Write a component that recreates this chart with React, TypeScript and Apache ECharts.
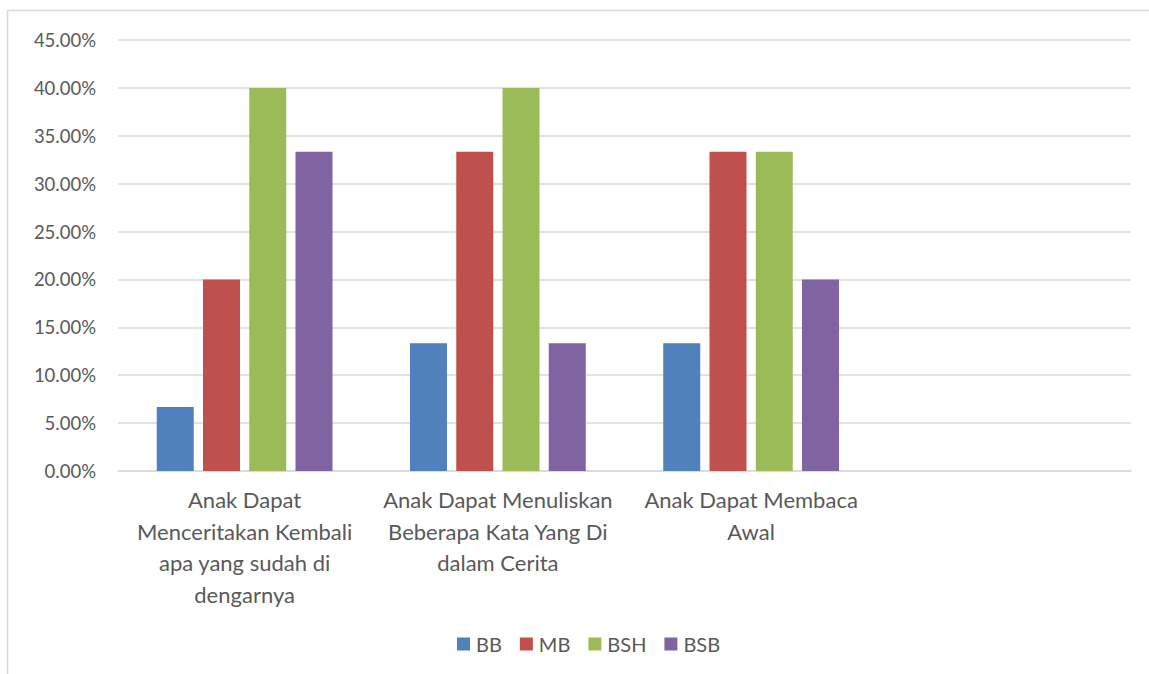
import React, { useEffect, useRef } from "react";
import * as echarts from "echarts";

const categories = [
  "Anak Dapat\nMenceritakan Kembali\napa yang sudah di\ndengarnya",
  "Anak Dapat Menuliskan\nBeberapa Kata Yang Di\ndalam Cerita",
  "Anak Dapat Membaca\nAwal",
  "",
];
const seriesNames = ["BB", "MB", "BSH", "BSB"];
const bbValues = [6.67, 13.33, 13.33, null];
const mbValues = [20.0, 33.33, 33.33, null];
const bshValues = [40.0, 40.0, 33.33, null];
const bsbValues = [33.33, 13.33, 20.0, null];
const colors = ["#4F81BD", "#C0504D", "#9BBB59", "#8064A2"];

export default function App() {
  const ref = useRef<HTMLDivElement>(null);
  useEffect(() => {
    document.body.style.margin = "0";
    const chart = echarts.init(ref.current!, null, { renderer: "svg" });
    const values = [bbValues, mbValues, bshValues, bsbValues];
    const font = "Lato, 'Open Sans', sans-serif";
    chart.setOption({
      animation: false,
      backgroundColor: "#ffffff",
      textStyle: { fontFamily: font },
      graphic: [
        {
          type: "rect",
          shape: { x: 7.5, y: 10.5, width: 1160, height: 700 },
          style: { fill: "none", stroke: "#d9d9d9", lineWidth: 1.5 },
          silent: true,
          z: -1,
        },
      ],
      grid: { left: 118, right: 18, top: 40, bottom: 203, containLabel: false },
      legend: {
        data: seriesNames,
        top: 634,
        left: 457,
        padding: 0,
        itemWidth: 13,
        itemHeight: 13,
        itemGap: 18,
        icon: "rect",
        textStyle: { color: "#595959", fontSize: 20, fontFamily: font, padding: [0, 0, 0, 1] },
      },
      xAxis: {
        type: "category",
        data: categories,
        axisTick: { show: false },
        axisLine: { lineStyle: { color: "#d9d9d9", width: 1.5 } },
        axisLabel: {
          color: "#595959",
          fontSize: 22,
          lineHeight: 31.5,
          margin: 13,
          interval: 0,
          fontFamily: font,
        },
      },
      yAxis: {
        type: "value",
        min: 0,
        max: 45,
        interval: 5,
        axisLine: { show: false },
        axisTick: { show: false },
        splitLine: { lineStyle: { color: "#d9d9d9", width: 1.5 } },
        axisLabel: {
          color: "#595959",
          fontSize: 18.5,
          margin: 22,
          fontFamily: font,
          formatter: (v: number) => v.toFixed(2) + "%",
        },
      },
      series: seriesNames.map((name, i) => ({
        name,
        type: "bar",
        data: values[i],
        barWidth: 37,
        barGap: "25%",
        itemStyle: { color: colors[i] },
      })),
    });
    return () => chart.dispose();
  }, []);
  return <div ref={ref} style={{ width: 1149, height: 674 }} />;
}
